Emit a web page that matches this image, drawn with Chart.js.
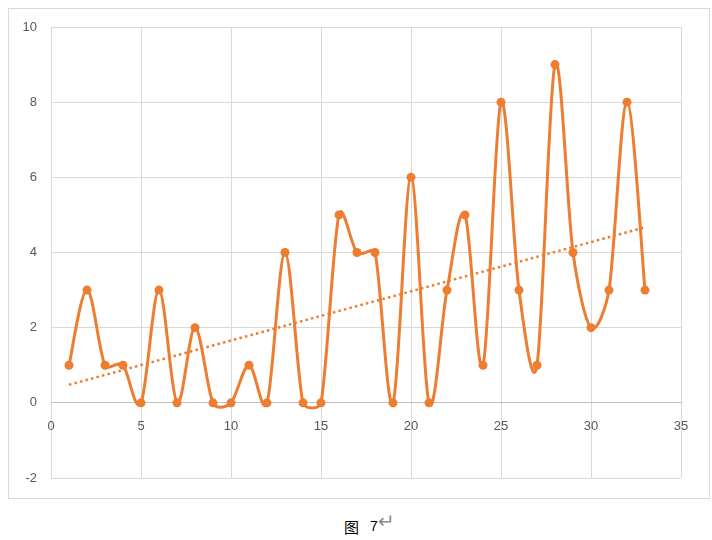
<!DOCTYPE html>
<html>
<head>
<meta charset="utf-8">
<script src="https://cdn.jsdelivr.net/npm/chart.js@4/dist/chart.umd.min.js"></script>
<style>
  html, body { margin: 0; padding: 0; background: #ffffff; width: 712px; height: 540px; overflow: hidden; }
  #frame { position: absolute; left: 8px; top: 8px; width: 700px; height: 489px; border: 1px solid #d9d9d9; }
  #frame canvas { position: absolute; left: 0; top: 0; }
  .cap { position: absolute; white-space: pre; line-height: 1; }
  #cap1 { left: 344px; top: 519px; font-family: "Noto Sans CJK SC", sans-serif; font-size: 15px; color: #000; }
  #cap2 { left: 370px; top: 519px; font-family: "Liberation Sans", sans-serif; font-size: 14px; color: #000; }
  #cap3 { left: 378px; top: 511px; font-family: "DejaVu Sans", sans-serif; font-size: 20px; color: #8c8c8c; }
</style>
</head>
<body>
<div id="frame"><canvas id="c" width="700" height="489"></canvas></div>
<span class="cap" id="cap1">图</span><span class="cap" id="cap2">7</span><span class="cap" id="cap3">↵</span>
<script>
// Data
const xValues = [1,2,3,4,5,6,7,8,9,10,11,12,13,14,15,16,17,18,19,20,21,22,23,24,25,26,27,28,29,30,31,32,33];
const yValues = [1,3,1,1,0,3,0,2,0,0,1,0,4,0,0,5,4,4,0,6,0,3,5,1,8,3,1,9,4,2,3,8,3];
// Linear trendline end points
const trendX = [1, 33];
const trendY = [0.48, 4.67];
// Axis ticks
const xTicks = [0, 5, 10, 15, 20, 25, 30, 35];
const yTicks = [-2, 0, 2, 4, 6, 8, 10];

const orange = '#ED7D31';
const seriesData = xValues.map((x, i) => ({ x: x, y: yValues[i] }));
const trendData = trendX.map((x, i) => ({ x: x, y: trendY[i] }));

// Excel-like smoothing applied to the library's own point elements:
// tangent parallel to the neighbour chord (1/6 of it), limited by the adjacent segment length.
const SMOOTH_K = 1 / 6;
const SMOOTH_CAP = 0.4;
const excelSmooth = {
  id: 'excelSmooth',
  beforeDatasetDraw(chart, args) {
    const line = args.meta.dataset;
    if (!line || !line.options || !line.options.tension) return;
    if (line.updateControlPoints) line.updateControlPoints(chart.chartArea, 'x');
    const pts = line.points;
    const n = pts.length;
    for (let i = 0; i < n; i++) {
      const p = pts[i];
      const prev = pts[Math.max(0, i - 1)];
      const next = pts[Math.min(n - 1, i + 1)];
      const vx = SMOOTH_K * (next.x - prev.x), vy = SMOOTH_K * (next.y - prev.y);
      const vlen = Math.hypot(vx, vy) || 1;
      const dPrev = Math.hypot(p.x - prev.x, p.y - prev.y);
      const dNext = Math.hypot(next.x - p.x, next.y - p.y);
      const s1 = Math.min(1, SMOOTH_CAP * dPrev / vlen);
      const s2 = Math.min(1, SMOOTH_CAP * dNext / vlen);
      p.cp1x = p.x - s1 * vx; p.cp1y = p.y - s1 * vy;
      p.cp2x = p.x + s2 * vx; p.cp2y = p.y + s2 * vy;
    }
  }
};

new Chart(document.getElementById('c'), {
  type: 'scatter',
  data: {
    datasets: [
      {
        data: trendData,
        showLine: true,
        borderColor: orange,
        borderWidth: 2.5,
        borderDash: [2.5, 3.2],
        borderCapStyle: 'butt',
        pointRadius: 0,
        pointHoverRadius: 0,
        order: 2
      },
      {
        data: seriesData,
        showLine: true,
        borderColor: orange,
        backgroundColor: orange,
        borderWidth: 3,
        tension: 0.4,
        cubicInterpolationMode: 'default',
        pointRadius: 4.5,
        pointBackgroundColor: orange,
        pointBorderColor: orange,
        pointBorderWidth: 0,
        order: 1
      }
    ]
  },
  plugins: [excelSmooth],
  options: {
    responsive: false,
    animation: false,
    events: [],
    layout: { padding: { top: 18, right: 28, bottom: 20, left: 0 } },
    plugins: { legend: { display: false }, tooltip: { enabled: false } },
    scales: {
      x: {
        type: 'linear',
        position: { y: 0 },
        min: xTicks[0],
        max: xTicks[xTicks.length - 1],
        afterBuildTicks: (s) => { s.ticks = xTicks.map(v => ({ value: v })); },
        afterFit: (s) => { s.paddingLeft = 0; s.paddingRight = 0; },
        ticks: { color: '#595959', font: { family: 'Liberation Sans', size: 13 }, padding: 16 },
        grid: { color: '#d9d9d9', lineWidth: 1, drawTicks: false },
        border: { color: '#bfbfbf', width: 1 }
      },
      y: {
        type: 'linear',
        min: yTicks[0],
        max: yTicks[yTicks.length - 1],
        afterBuildTicks: (s) => { s.ticks = yTicks.map(v => ({ value: v })); },
        afterFit: (s) => { s.width = 42; s.paddingTop = 0; s.paddingBottom = 0; },
        ticks: { color: '#595959', font: { family: 'Liberation Sans', size: 13 }, padding: 14 },
        grid: { color: '#d9d9d9', lineWidth: 1, drawTicks: false },
        border: { display: false }
      }
    }
  }
});
</script>
</body>
</html>
